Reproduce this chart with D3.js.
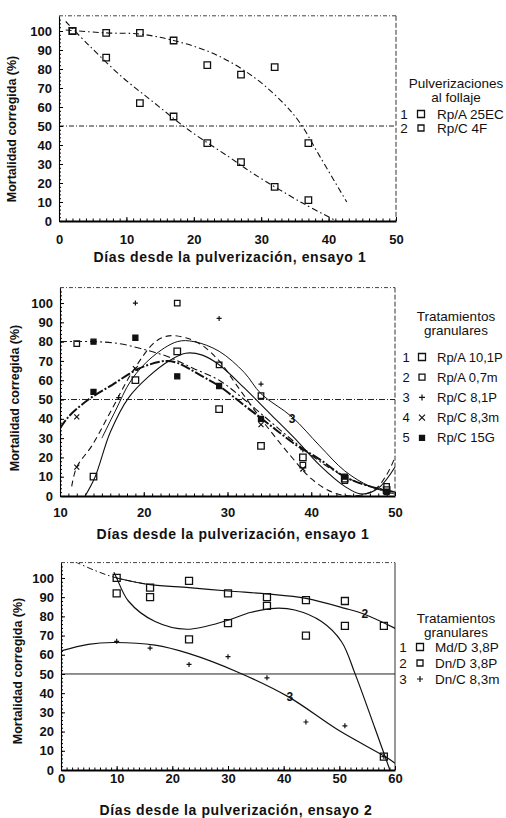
<!DOCTYPE html>
<html>
<head>
<meta charset="utf-8">
<script src="https://cdn.jsdelivr.net/npm/d3@7"></script>
<style>
  body { margin: 0; background: #fff; }
  text { font-family: "Liberation Sans", Arial, Helvetica, sans-serif; fill: #111; }
</style>
</head>
<body>
<script>
// ---- data ----
const yTicks = [0, 10, 20, 30, 40, 50, 60, 70, 80, 90, 100];
const p1XTicks = [0, 10, 20, 30, 40, 50];
const p2XTicks = [10, 20, 30, 40, 50];
const p3XTicks = [0, 10, 20, 30, 40, 50, 60];

// panel 1: pulverizaciones al follaje
const p1Names = ["Rp/A 25EC", "Rp/C 4F"];
const p1Days = [2, 7, 12, 17, 22, 27, 32, 37];
const p1S1 = [100, 99, 99, 95, 82, 77, 81, 41];
const p1S2 = [100, 86, 62, 55, 41, 31, 18, 11];
const p1Fit1 = [[1, 100.5], [7, 99], [12, 98.4], [17, 95], [23, 88], [28.8, 76], [33.3, 62], [35.8, 51.4], [38.7, 34], [42.7, 10]];
const p1Fit2 = [[1, 105], [4.4, 92.6], [9.3, 76], [14.2, 62], [19.2, 48], [25.1, 34], [28.8, 25], [36.2, 9.3], [41.2, 0]];

// panel 2: tratamientos granulares, ensayo 1
const p2Names = ["Rp/A 10,1P", "Rp/A 0,7m", "Rp/C 8,1P", "Rp/C 8,3m", "Rp/C 15G"];
const p2D1 = [14, 19, 24, 29, 34, 39, 44, 49];
const p2S1 = [10, 60, 75, 45, 26, 20, 9, 3];
const p2D2 = [12, 24, 29, 34, 39, 44, 49];
const p2S2 = [79, 100, 68, 52, 16, 8, 5];
const p2D3 = [17, 19, 29, 34, 39];
const p2S3 = [51, 100, 92, 58, 24];
const p2D4 = [12, 12, 19, 34, 39];
const p2S4 = [15, 41, 66, 37, 14];
const p2D5 = [14, 14, 19, 24, 29, 34, 44, 49];
const p2S5 = [80, 54, 82, 62, 57, 40, 10, 2];
const p2Fit1 = [[13, 0], [14.2, 10], [16, 33], [18.2, 51], [20.6, 62], [23, 70], [25, 74], [27, 73], [29, 68], [32, 56], [35, 43], [38, 30], [41, 16], [44, 5], [46, 1], [48, 4], [50, 15]];
const p2Fit2 = [[10, 80], [14, 80], [17, 79], [20, 76], [23, 72], [26, 66], [29, 60], [32, 50], [35, 39], [38, 28], [41, 18], [44, 10], [47, 5], [50, 2]];
const p2Fit3 = [[15, 30], [16.6, 44], [18.5, 60], [21, 72], [24, 80], [26, 80], [29, 75], [32, 64], [34, 53], [37.7, 41], [41, 26], [44, 13], [47, 5], [50, 1]];
const p2Fit4 = [[11.4, 5], [12, 15], [13.8, 26], [16.2, 45], [18.6, 64], [21.4, 80], [23, 83], [25, 82], [27, 78], [29, 70], [31, 58], [34, 40], [37.5, 21], [40, 9], [42.5, 2], [45, 0], [47.5, 3], [49, 11], [50, 20]];
const p2Fit5 = [[10, 35], [11, 41], [13.4, 50], [16.2, 57.5], [19.4, 66], [22.6, 70], [24, 69], [27, 62], [29, 57], [32, 47], [35, 37], [38, 27], [41, 19], [44, 10], [47, 5], [50, 2]];

// panel 3: tratamientos granulares, ensayo 2
const p3Names = ["Md/D 3,8P", "Dn/D 3,8P", "Dn/C 8,3m"];
const p3Days = [10, 16, 23, 30, 37, 44, 51, 58];
const p3S1 = [92, 90, 68, 76.5, 85.5, 70, 75, 7];
const p3S2 = [100, 95, 98.5, 92, 90, 88.5, 88, 75];
const p3S3 = [67, 63.5, 55, 59, 48, 25, 23, 7];
const p3Fit1 = [[9.5, 103], [10, 100], [12.1, 88], [16.9, 77.3], [22.6, 73.3], [30, 78], [34, 82], [38.4, 84.2], [42, 83.3], [46.8, 77.3], [50.4, 66.8], [52.8, 50.3], [56.4, 21.7], [59.4, -2.6]];
const p3Fit2 = [[2.5, 108.5], [6, 104], [10, 100], [16, 96.5], [23, 95], [30, 93.2], [37, 91.7], [44, 89.4], [51, 84.2], [54.6, 81], [60.3, 73.4]];
const p3Fit3 = [[0, 62], [4.9, 65.4], [9.3, 66.4], [16.9, 65], [22.9, 60.7], [31.9, 50.8], [40.8, 38.2], [49.8, 20.8], [58.8, 6], [60, 3.5]];

// ---- drawing ----
const svg = d3.select("body").append("svg")
    .attr("width", 506)
    .attr("height", 818);

const p1X = d3.scaleLinear().domain([0, 50]).range([59, 396]);
const p1Y = d3.scaleLinear().domain([0, 108]).range([221, 15.8]);
const p2X = d3.scaleLinear().domain([10, 50]).range([60, 395]);
const p2Y = d3.scaleLinear().domain([0, 108]).range([496, 287.6]);
const p3X = d3.scaleLinear().domain([0, 60]).range([61, 395]);
const p3Y = d3.scaleLinear().domain([0, 108]).range([770, 562.6]);

function frame(id, x, y, xTicks, labelPad, fiftyDash) {
    const g = svg.append("g");
    const [x0, x1] = x.range();
    const [yb, yt] = y.range();
    svg.append("clipPath").attr("id", id).append("rect")
        .attr("x", x0).attr("y", yt).attr("width", x1 - x0).attr("height", yb - yt);

    // top and right of the box, faint like the scan
    g.append("line").attr("x1", x0).attr("x2", x1).attr("y1", yt).attr("y2", yt)
        .attr("stroke", "#444").attr("stroke-width", 1).attr("stroke-dasharray", "4,2,1,2");
    g.append("line").attr("x1", x1).attr("x2", x1).attr("y1", yt).attr("y2", yb)
        .attr("stroke", "#333").attr("stroke-width", 1).attr("stroke-dasharray", fiftyDash ? "5,2" : null);

    // 50 % line
    g.append("line").attr("x1", x0).attr("x2", x1).attr("y1", y(50)).attr("y2", y(50))
        .attr("stroke", "#222").attr("stroke-width", 1).attr("stroke-dasharray", fiftyDash);

    // minor ticks
    const xMinor = d3.range(x.domain()[0], x.domain()[1] + 0.5, 1);
    g.append("g").attr("transform", `translate(0,${yb})`)
        .call(d3.axisBottom(x).tickValues(xMinor).tickSize(-2.5).tickFormat(""))
        .call(a => a.select(".domain").remove());
    g.append("g").attr("transform", `translate(${x0},0)`)
        .call(d3.axisLeft(y).tickValues(d3.range(0, 107, 2)).tickSize(-2).tickFormat(""))
        .call(a => a.select(".domain").remove());

    const xa = g.append("g").attr("transform", `translate(0,${yb})`)
        .call(d3.axisBottom(x).tickValues(xTicks).tickSizeInner(-4).tickSizeOuter(0).tickPadding(labelPad));
    xa.select(".domain").attr("stroke-width", 1.8);
    xa.selectAll("text").style("font-size", "13px").style("font-weight", "bold");

    const ya = g.append("g").attr("transform", `translate(${x0},0)`)
        .call(d3.axisLeft(y).tickValues(yTicks).tickSizeInner(-4).tickSizeOuter(0).tickPadding(7));
    ya.select(".domain").attr("stroke-width", 1.1);
    ya.selectAll("text").style("font-size", "13px").style("font-weight", "bold");
    return g;
}

// y title centre (cx, cy), x title centre (tx, ty)
function titles(cx, cy, tx, ty, txt) {
    svg.append("text")
        .attr("transform", `translate(${cx},${cy}) rotate(-90)`)
        .attr("text-anchor", "middle")
        .style("font-size", "12.5px").style("font-weight", "bold")
        .text("Mortalidad corregida (%)");
    svg.append("text")
        .attr("x", tx).attr("y", ty + 5)
        .attr("text-anchor", "middle")
        .style("font-size", "14px").style("font-weight", "bold")
        .style("letter-spacing", "0.6px")
        .text(txt);
}

const line = (x, y) => d3.line().x(d => x(d[0])).y(d => y(d[1])).curve(d3.curveCatmullRom.alpha(0.5));

function curve(id, x, y, pts, width, dash) {
    svg.append("path").datum(pts)
        .attr("clip-path", `url(#${id})`)
        .attr("d", line(x, y))
        .attr("fill", "none").attr("stroke", "#111")
        .attr("stroke-width", width)
        .attr("stroke-dasharray", dash);
}

function symbolPath(shape, s) {
    const h = s / 2;
    if (shape === "plus") return `M${-h},0H${h}M0,${-h}V${h}`;
    if (shape === "x") return `M${-h},${-h}L${h},${h}M${-h},${h}L${h},${-h}`;
    return `M${-h},${-h}H${h}V${h}H${-h}Z`;
}

function marker(g, cx, cy, shape, s) {
    g.append("path")
        .attr("transform", `translate(${cx},${cy})`)
        .attr("d", symbolPath(shape, s))
        .attr("fill", shape === "fill" ? "#111" : "none")
        .attr("stroke", "#111")
        .attr("stroke-width", shape === "plus" || shape === "x" ? 1.2 : 1.3);
}

function marks(id, x, y, days, vals, shape, s) {
    const g = svg.append("g").attr("clip-path", `url(#${id})`);
    days.forEach((d, i) => marker(g, x(d), y(vals[i]), shape, s));
}

function legend(title, names, shapes, sizes, cx, ty, ey0, step, xNum, xSym, xTxt, fs) {
    const g = svg.append("g");
    title.forEach((t, i) => g.append("text")
        .attr("x", cx).attr("y", ty + i * 14)
        .attr("text-anchor", "middle")
        .style("font-size", "13.5px").text(t));
    names.forEach((n, i) => {
        const yy = ey0 + i * step;
        g.append("text").attr("x", xNum).attr("y", yy + 4.5)
            .attr("text-anchor", "middle").style("font-size", fs).text(i + 1);
        marker(g, xSym, yy, shapes[i], sizes[i]);
        g.append("text").attr("x", xTxt).attr("y", yy + 4.5)
            .style("font-size", fs).text(n);
    });
}

function curveLabel(x, y, d, v, t) {
    svg.append("text").attr("x", x(d)).attr("y", y(v) + 4.5)
        .attr("text-anchor", "middle")
        .style("font-size", "12px").style("font-weight", "bold").text(t);
}

// panel 1
frame("c1", p1X, p1Y, p1XTicks, 13.5, "5,2,1,2");
titles(16, 129, 230, 257, "Días desde la pulverización, ensayo 1");
curve("c1", p1X, p1Y, p1Fit1, 1.1, "6,3,1.5,3");
curve("c1", p1X, p1Y, p1Fit2, 1.1, "6,3,1.5,3");
marks("c1", p1X, p1Y, p1Days, p1S1, "sq", 6.5);
marks("c1", p1X, p1Y, p1Days, p1S2, "sq", 6.5);
legend(["Pulverizaciones", "al follaje"], p1Names, ["sq", "sq"], [7, 6],
    456, 88, 114, 14, 404, 421, 437, "13.5px");

// panel 2
frame("c2", p2X, p2Y, p2XTicks, 11.5, "6,2,1,2");
titles(19, 398, 233, 534, "Días desde la pulverización, ensayo 1");
curve("c2", p2X, p2Y, p2Fit1, 1.1, null);
curve("c2", p2X, p2Y, p2Fit2, 1.1, "7,3,2,3");
curve("c2", p2X, p2Y, p2Fit3, 1, null);
curve("c2", p2X, p2Y, p2Fit4, 1.1, "6,4");
curve("c2", p2X, p2Y, p2Fit5, 2, "10,2,2,2");
marks("c2", p2X, p2Y, p2D1, p2S1, "sq", 6.5);
marks("c2", p2X, p2Y, p2D2, p2S2, "sq", 5.5);
marks("c2", p2X, p2Y, p2D3, p2S3, "plus", 5);
marks("c2", p2X, p2Y, p2D4, p2S4, "x", 5);
marks("c2", p2X, p2Y, p2D5, p2S5, "fill", 5);
curveLabel(p2X, p2Y, 37.7, 40, "3");
legend(["Tratamientos", "granulares"], p2Names, ["sq", "sq", "plus", "x", "fill"], [7, 6, 6, 6, 5],
    456, 321, 357, 20.2, 406, 422, 437, "13px");

// panel 3
frame("c3", p3X, p3Y, p3XTicks, 3.5, null);
titles(22, 671, 236, 810, "Días desde la pulverización, ensayo 2");
curve("c3", p3X, p3Y, p3Fit1, 1.2, null);
curve("c3", p3X, p3Y, p3Fit2.filter(d => d[0] <= 16), 1, "6,3,1.5,3");
curve("c3", p3X, p3Y, p3Fit2.filter(d => d[0] >= 10), 1.2, null);
curve("c3", p3X, p3Y, p3Fit3, 1.2, null);
marks("c3", p3X, p3Y, p3Days, p3S1, "sq", 7);
marks("c3", p3X, p3Y, p3Days, p3S2, "sq", 7);
marks("c3", p3X, p3Y, p3Days, p3S3, "plus", 5);
curveLabel(p3X, p3Y, 54.6, 81.5, "2");
curveLabel(p3X, p3Y, 41.1, 38.5, "3");
legend(["Tratamientos", "granulares"], p3Names, ["sq", "sq", "plus"], [7, 6, 6],
    456, 623, 647, 16, 403, 420, 435, "13.5px");
</script>
</body>
</html>
